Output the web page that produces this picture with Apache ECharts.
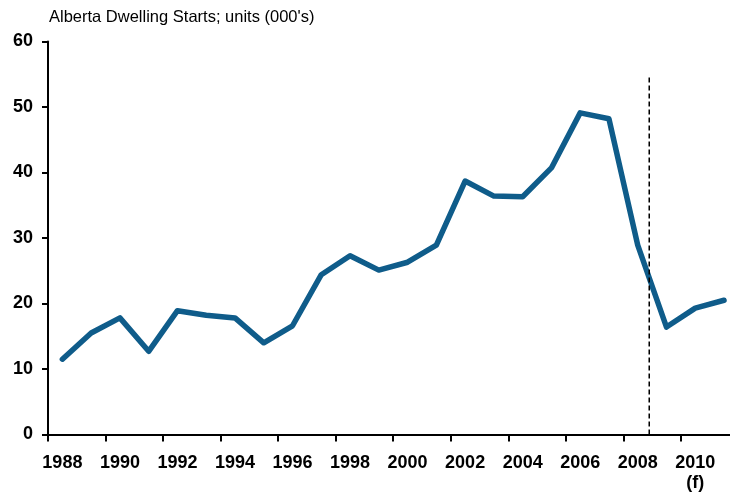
<!DOCTYPE html>
<html>
<head>
<meta charset="utf-8">
<script src="https://cdn.jsdelivr.net/npm/echarts@6/dist/echarts.min.js"></script>
<style>html,body{margin:0;padding:0;background:#fff}#c{width:730px;height:498px}</style>
</head>
<body>
<div id="c"></div>
<script>
const years = ['1988','1989','1990','1991','1992','1993','1994','1995','1996','1997','1998','1999','2000','2001','2002','2003','2004','2005','2006','2007','2008','2009','2010','2011'];
const starts = [11.5,15.5,17.8,12.7,18.9,18.2,17.8,14.0,16.6,24.4,27.3,25.1,26.3,28.9,38.7,36.4,36.3,40.7,49.1,48.2,28.9,16.4,19.3,20.5];
const yTicks = [0,10,20,30,40,50,60];
const forecastMarkerIndex = 20.4;
const forecastMarkerTop = 54.8;
const titleText = "Alberta Dwelling Starts; units (000's)";

const chart = echarts.init(document.getElementById('c'), null, {renderer:'canvas'});
chart.setOption({
  animation: false,
  title: {text: titleText, left: 49, top: 9, padding: 0, textStyle:{fontFamily:'Liberation Sans, Arial, sans-serif', fontSize:16.5, fontWeight:'normal', color:'#000'}},
  grid: {left: 48, right: -8.4, top: 41.5, bottom: 63.5, containLabel:false, outerBoundsMode:'none'},
  xAxis: [{
    type:'category', data: years, boundaryGap:true,
    axisLine:{onZero:false, lineStyle:{color:'#000', width:2}},
    axisTick:{show:true, interval:1, length:7, lineStyle:{color:'#000', width:2}},
    axisLabel:{interval:1, margin:19, color:'#000', fontFamily:'Liberation Sans, Arial, sans-serif', fontSize:18, fontWeight:'bold', lineHeight:20,
      formatter: v => v === '2010' ? '2010\n(f)' : v},
    splitLine:{show:false}
  },{
    type:'value', min:-0.5, max:23.5, show:false
  }],
  yAxis: {
    type:'value', min: yTicks[0], max: yTicks[yTicks.length-1], interval: 10,
    axisLine:{show:true, onZero:false, lineStyle:{color:'#000', width:2}},
    axisTick:{show:true, length:6, lineStyle:{color:'#000', width:2}},
    axisLabel:{margin:15, color:'#000', fontFamily:'Liberation Sans, Arial, sans-serif', fontSize:18, fontWeight:'bold'},
    splitLine:{show:false}
  },
  series: [{
    type:'line', data: starts, xAxisIndex:0, symbol:'none',
    lineStyle:{color:'#0f5c8a', width:5.5, join:'round', cap:'round'}
  },{
    type:'line', xAxisIndex:1, symbol:'none', z:3,
    data: [[forecastMarkerIndex, yTicks[0]],[forecastMarkerIndex, forecastMarkerTop]],
    lineStyle:{color:'#000', width:1.5, type:[5,3]}
  }]
});
</script>
</body>
</html>
